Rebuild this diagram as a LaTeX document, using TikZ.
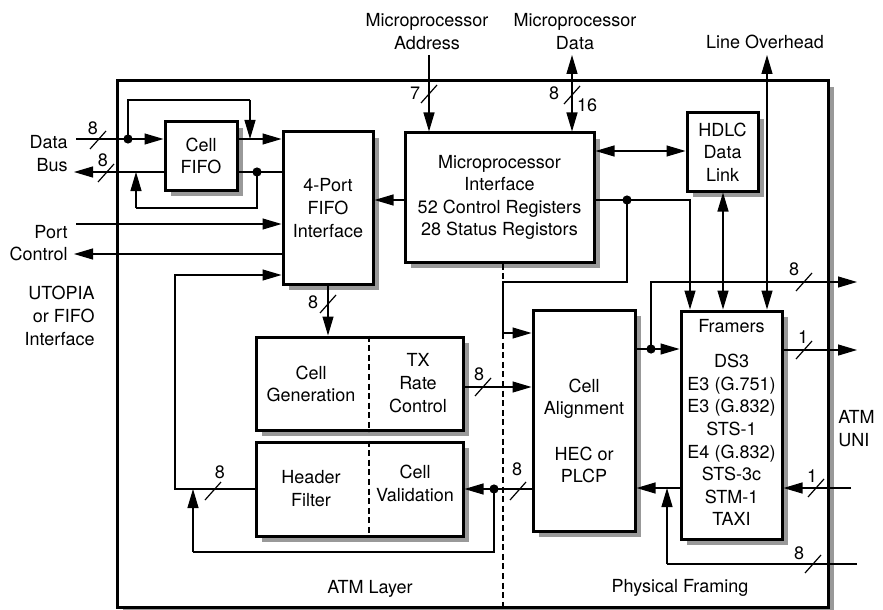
\documentclass[tikz,border=0pt]{standalone}
\usepackage{fontspec}
\setmainfont{TeX Gyre Heros}
\usetikzlibrary{arrows.meta,calc}
\newcommand{\busmark}[1]{\draw[ln] #1 ++(-8,9) -- ++(16,-18);}
\newcommand{\blk}[6]{%
  \node[shd,minimum width=#4,minimum height=#5] (#1-sh) at ($(#2,#3)+(6,6)$) {};
  \node[box,txt,minimum width=#4,minimum height=#5] (#1) at (#2,#3) {#6};}
\begin{document}
\begin{tikzpicture}[x=0.5pt,y=-0.5pt,
  font=\fontsize{9}{11.3}\selectfont,
  ln/.style={line width=0.6pt},
  arr/.style={ln,-{Triangle[length=9.5pt,width=5.5pt]}},
  darr/.style={ln,{Triangle[length=9.5pt,width=5.5pt]}-{Triangle[length=9.5pt,width=5.5pt]}},
  box/.style={draw,line width=1.5pt,fill=white},
  shd/.style={fill=black!40,draw=none,inner sep=0pt,outer sep=0pt},
  txt/.style={inner sep=0pt,align=center},
  lbl/.style={inner sep=0pt},
  dsh/.style={line width=0.6pt,dash pattern=on 3pt off 1.8pt}]
\useasboundingbox (0,0) rectangle (883,610);

% outer chip
\blk{chip}{472.5}{344}{355.5pt}{263pt}{}

% blocks
\blk{fifo}{201}{156}{36pt}{34pt}{Cell\\FIFO}
\blk{port4}{328}{208}{45pt}{76pt}{4-Port\\FIFO\\Interface}
\blk{micro}{499.5}{197.5}{94.5pt}{64.5pt}{Microprocessor\\Interface\\52 Control Registers\\28 Status Registors}
\blk{hdlc}{722.5}{152}{35.5pt}{39pt}{HDLC\\Data\\Link}
\blk{gen}{359.5}{383.5}{103.5pt}{46.5pt}{}
\blk{filt}{359.5}{489}{103.5pt}{47pt}{}
\blk{align}{584}{420.5}{51pt}{110.5pt}{}
\blk{framers}{731.5}{425}{50.5pt}{114pt}{}

% dashed dividers
\draw[dsh] (gen.north -| 369,0) -- (gen.south -| 369,0);
\draw[dsh] (filt.north -| 369,0) -- (filt.south -| 369,0);

% texts inside split boxes
\node[txt] (tgen) at (311,384) {Cell\\Generation};
\node[txt] (ttx) at (418,383) {TX\\Rate\\Control};
\node[txt] (thf) at (311,488.5) {Header\\Filter};
\node[txt] (tcv) at (415,483.5) {Cell\\Validation};
\node[txt] (talign) at (584,431) {Cell\\Alignment\\~\\HEC or\\PLCP};
\node[txt] (tfr) at (731.5,326) {Framers};
\node[txt] (tfrl) at (731.5,440) {DS3\\E3 (G.751)\\E3 (G.832)\\STS-1\\E4 (G.832)\\STS-3c\\STM-1\\TAXI};

% outside labels
\node[txt,anchor=east,align=right] (databus) at (68,153.5) {Data\\Bus};
\node[txt,anchor=east,align=right] (portctl) at (68,243) {Port\\Control};
\node[txt,anchor=east,align=right] (utopia) at (95,316) {UTOPIA\\or FIFO\\Interface};
\node[txt] (maddr) at (427,31.5) {Microprocessor\\Address};
\node[txt] (mdata) at (575,31.5) {Microprocessor\\Data};
\node[txt] (lovh) at (765,42) {Line Overhead};
\node[txt] (atml) at (370,589) {ATM Layer};
\node[txt] (phyf) at (680,588) {Physical Framing};
\node[txt,anchor=west,align=left] (atmuni) at (838,428.5) {ATM\\UNI};

% coordinates
\coordinate (dataL) at (76,139);
\coordinate (dD) at (128,139);
\coordinate (jTop) at (250,139);
\coordinate (busL) at (74,172);
\coordinate (dB) at (257,172);
\coordinate (jBus) at (136,172);
\coordinate (portL) at (76,224);
\coordinate (ctlL) at (74,254);
\coordinate (hl) at (175,275);
\coordinate (dV) at (494,489);
\coordinate (jV) at (193,489);
\coordinate (dM) at (627,200);
\coordinate (dA) at (651,349);
\coordinate (out8) at (857,282);
\coordinate (out1) at (857,350);
\coordinate (in1) at (851,488);
\coordinate (in8) at (857,564);
\coordinate (jF) at (667,488);
\coordinate (addrT) at (429,55);
\coordinate (mdT) at (572,55);
\coordinate (loT) at (767,55);

% data bus
\draw[ln] (dataL) -- (dD);
\draw[arr] (dD) -- (fifo.west |- dD);
\draw[ln] (dD) -- (128,100) -- (250,100);
\draw[arr] (250,100) -- (jTop);
\draw[arr] (fifo.east |- jTop) -- (port4.west |- jTop);
\draw[ln] (port4.west |- dB) -- (dB) -- (fifo.east |- dB);
\draw[arr] (fifo.west |- dB) -- (busL);
\draw[ln] (dB) -- (257,208) -- (136,208);
\draw[arr] (136,208) -- (jBus);
\fill (dD) circle (2.3pt);
\fill (dB) circle (2.3pt);

% port control
\draw[arr] (portL) -- (port4.west |- portL);
\draw[arr] (port4.west |- ctlL) -- (ctlL);

% header filter loop
\draw[arr] (filt.west |- dV) -- (175,489) -- (hl) -- (port4.west |- hl);

% 4-port to cell generation
\draw[arr] (port4.south) -- (port4.south |- gen.north);

% TX to alignment
\draw[arr] (gen.east |- 0,387) -- (align.west |- 0,387);

% alignment to validation
\draw[ln] (align.west |- dV) -- (dV);
\draw[arr] (dV) -- (filt.east |- dV);
\draw[ln] (dV) -- (494,552) -- (193,552);
\draw[arr] (193,552) -- (jV);
\fill (dV) circle (2.3pt);

% framers to alignment
\draw[arr] (framers.west |- jF) -- (align.east |- jF);
\draw[ln] (in8) -- (667,564);
\draw[arr] (667,564) -- (jF);
\draw[arr] (in1) -- (framers.east |- in1);
\draw[arr] (framers.east |- out1) -- (out1);

% alignment to framers
\draw[ln] (align.east |- dA) -- (dA);
\draw[arr] (dA) -- (framers.west |- dA);
\draw[arr] (dA) -- (651,282) -- (out8);
\fill (dA) circle (2.3pt);

% microprocessor connections
\draw[arr] (micro.west |- 0,200) -- (port4.east |- 0,200);
\draw[darr] (micro.east |- 0,151) -- (hdlc.west |- 0,151);
\draw[darr] (hdlc.south -| 723,0) -- (framers.north -| 723,0);
\draw[ln] (micro.east |- dM) -- (dM);
\draw[arr] (dM) -- (690,200) -- (framers.north -| 690,0);
\draw[ln] (dM) -- (627,282) -- (503,282) -- (503,333);
\draw[arr] (503,333) -- (align.west |- 0,333);
\fill (dM) circle (2.3pt);
\draw[arr] (addrT) -- (addrT |- micro.north);
\draw[darr] (mdT) -- (mdT |- micro.north);
\draw[darr] (loT) -- (loT |- framers.north);

% ATM / physical boundary
\draw[dsh] (micro.south -| 503,0) -- (503,282);
\draw[dsh] (503,333) -- (chip.south -| 503,0);

% bus width marks
\busmark{(98,140)}
\node[lbl] (n1) at (93,128) {8};
\busmark{(106,173)}
\node[lbl] (n2) at (103,160) {8};
\busmark{(429,94)}
\node[lbl] (n3) at (415,93) {7};
\busmark{(572,95)}
\node[lbl] (n4) at (554,93) {8};
\node[lbl] (n5) at (587,105) {16};
\busmark{(328,304)}
\node[lbl] (n6) at (313,302) {8};
\busmark{(483,387)}
\node[lbl] (n7) at (479,374) {8};
\busmark{(213,491)}
\node[lbl] (n8) at (220,472) {8};
\busmark{(518,491)}
\node[lbl] (n9) at (517,469) {8};
\busmark{(804,282)}
\node[lbl] (n10) at (794,269) {8};
\busmark{(804,350)}
\node[lbl] (n11) at (803,337) {1};
\busmark{(816,488)}
\node[lbl] (n12) at (812,476) {1};
\busmark{(813,564)}
\node[lbl] (n13) at (799,553) {8};
\end{tikzpicture}
\end{document}
